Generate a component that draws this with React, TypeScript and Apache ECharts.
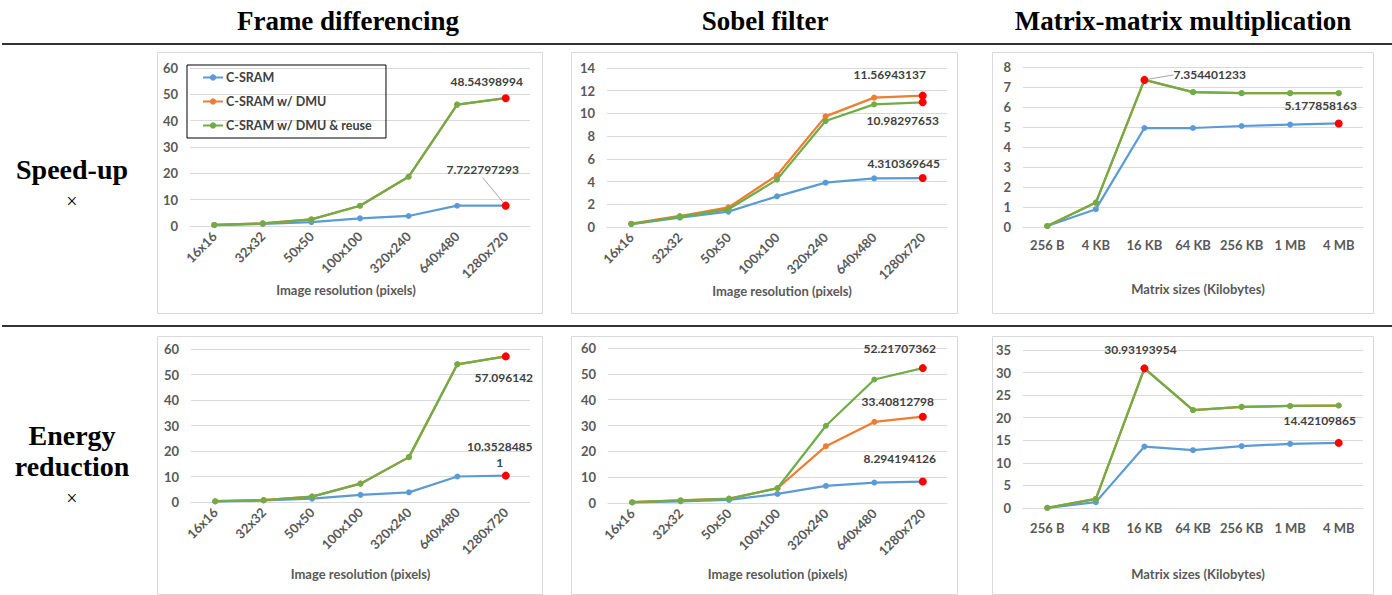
import React, { useEffect, useRef } from 'react';
import * as echarts from 'echarts';

const IMAGE_SIZES = ['16x16', '32x32', '50x50', '100x100', '320x240', '640x480', '1280x720'];
const MATRIX_SIZES = ['256 B', '4 KB', '16 KB', '64 KB', '256 KB', '1 MB', '4 MB'];
const SERIES_NAMES = ['C-SRAM', 'C-SRAM w/ DMU', 'C-SRAM w/ DMU & reuse'];
const COLORS = ['#5B9BD5', '#ED7D31', '#70AD47'];
const COLUMN_TITLES = ['Frame differencing', 'Sobel filter', 'Matrix-matrix multiplication'];

// Speed-up
const FD_SPEED_CSRAM = [0.3, 0.8, 1.5, 2.9, 3.8, 7.7, 7.722797293];
const FD_SPEED_DMU = [0.4, 1.0, 2.5, 7.7, 18.7, 46.1, 48.54398994];
const FD_SPEED_REUSE = [0.4, 1.0, 2.5, 7.7, 18.7, 46.1, 48.54398994];
const SB_SPEED_CSRAM = [0.26, 0.82, 1.35, 2.7, 3.9, 4.28, 4.310369645];
const SB_SPEED_DMU = [0.29, 0.97, 1.73, 4.55, 9.74, 11.39, 11.56943137];
const SB_SPEED_REUSE = [0.26, 0.91, 1.56, 4.17, 9.33, 10.8, 10.98297653];
const MM_SPEED_CSRAM = [0.05, 0.89, 4.95, 4.95, 5.05, 5.12, 5.177858163];
const MM_SPEED_DMU = [0.05, 1.22, 7.354401233, 6.74, 6.69, 6.69, 6.69];
const MM_SPEED_REUSE = [0.05, 1.22, 7.354401233, 6.74, 6.69, 6.69, 6.69];

// Energy reduction
const FD_ENERGY_CSRAM = [0.2, 0.6, 1.3, 2.8, 3.8, 10.0, 10.35284851];
const FD_ENERGY_DMU = [0.3, 0.7, 2.1, 7.2, 17.6, 54.0, 57.096142];
const FD_ENERGY_REUSE = [0.3, 0.7, 2.1, 7.2, 17.6, 54.0, 57.096142];
const SB_ENERGY_CSRAM = [0.2, 0.65, 1.2, 3.5, 6.6, 7.9, 8.294194126];
const SB_ENERGY_DMU = [0.3, 1.0, 1.7, 5.7, 22.0, 31.4, 33.40812798];
const SB_ENERGY_REUSE = [0.3, 1.0, 1.6, 5.8, 29.9, 47.8, 52.21707362];
const MM_ENERGY_CSRAM = [0.02, 1.3, 13.6, 12.8, 13.7, 14.2, 14.42109865];
const MM_ENERGY_DMU = [0.05, 2.0, 30.93193954, 21.7, 22.4, 22.6, 22.7];
const MM_ENERGY_REUSE = [0.05, 2.0, 30.93193954, 21.7, 22.4, 22.6, 22.7];

type HL = { s: number; i: number; pos: string; offset?: number[]; lead?: number[]; wrap?: boolean };

const PANELS: any[] = [
  {
    cats: IMAGE_SIZES, data: [FD_SPEED_CSRAM, FD_SPEED_DMU, FD_SPEED_REUSE], max: 60, interval: 10,
    axisName: 'Image resolution (pixels)', rotate: 45, labelMargin: 8, nameGap: 56, namePad: [0, 28, 0, 0],
    grid: { left: 190, top: 68, width: 340, height: 158 }, box: [157, 52, 385, 261],
    hl: [
      { s: 2, i: 6, pos: 'top', offset: [-19, 0] },
      { s: 0, i: 6, pos: 'top', lead: [-23, -19] },
    ] as HL[],
  },
  {
    cats: IMAGE_SIZES, data: [SB_SPEED_CSRAM, SB_SPEED_DMU, SB_SPEED_REUSE], max: 14, interval: 2,
    axisName: 'Image resolution (pixels)', rotate: 45, labelMargin: 8, nameGap: 56, namePad: [0, 0, 0, 10],
    grid: { left: 607, top: 68, width: 340, height: 159 }, box: [571, 52, 386, 261],
    hl: [
      { s: 1, i: 6, pos: 'top', offset: [-33, -4] },
      { s: 2, i: 6, pos: 'bottom', offset: [-20, 1] },
      { s: 0, i: 6, pos: 'top', offset: [-19, 2] },
    ] as HL[],
  },
  {
    cats: MATRIX_SIZES, data: [MM_SPEED_CSRAM, MM_SPEED_DMU, MM_SPEED_REUSE], max: 8, interval: 1,
    axisName: 'Matrix sizes (Kilobytes)', rotate: 0, labelMargin: 11, nameGap: 55, namePad: [0, 0, 0, 10],
    grid: { left: 1023, top: 67, width: 340, height: 160 }, box: [992, 52, 381, 261],
    hl: [
      { s: 2, i: 2, pos: 'right', lead: [20, -5] },
      { s: 0, i: 6, pos: 'top', offset: [-18, -1] },
    ] as HL[],
  },
  {
    cats: IMAGE_SIZES, data: [FD_ENERGY_CSRAM, FD_ENERGY_DMU, FD_ENERGY_REUSE], max: 60, interval: 10,
    axisName: 'Image resolution (pixels)', rotate: 45, labelMargin: 8, nameGap: 65, namePad: [0, 0, 0, 0],
    grid: { left: 191, top: 349, width: 339, height: 153 }, box: [157, 336, 385, 258],
    hl: [
      { s: 2, i: 6, pos: 'bottom', offset: [-2, 4] },
      { s: 0, i: 6, pos: 'top', offset: [-6, 4], wrap: true },
    ] as HL[],
  },
  {
    cats: IMAGE_SIZES, data: [SB_ENERGY_CSRAM, SB_ENERGY_DMU, SB_ENERGY_REUSE], max: 60, interval: 10,
    axisName: 'Image resolution (pixels)', rotate: 45, labelMargin: 8, nameGap: 64, namePad: [0, 0, 0, 0],
    grid: { left: 608, top: 348, width: 339, height: 155 }, box: [571, 336, 386, 258],
    hl: [
      { s: 2, i: 6, pos: 'top', offset: [-23, -3] },
      { s: 1, i: 6, pos: 'top', offset: [-25, 2] },
      { s: 0, i: 6, pos: 'top', offset: [-23, -6] },
    ] as HL[],
  },
  {
    cats: MATRIX_SIZES, data: [MM_ENERGY_CSRAM, MM_ENERGY_DMU, MM_ENERGY_REUSE], max: 35, interval: 5,
    axisName: 'Matrix sizes (Kilobytes)', rotate: 0, labelMargin: 13, nameGap: 59, namePad: [0, 0, 0, 10],
    grid: { left: 1023, top: 350, width: 340, height: 158 }, box: [992, 336, 381, 258],
    hl: [
      { s: 2, i: 2, pos: 'top', offset: [-4, -2] },
      { s: 0, i: 6, pos: 'top', offset: [-19, -5] },
    ] as HL[],
  },
];

const AXIS_TEXT = { color: '#595959', fontSize: 13, fontWeight: 'bold' as const, fontFamily: 'Lato' };
const LABEL_TEXT = { color: '#404040', fontSize: 12, fontWeight: 'bold' as const, fontFamily: 'Lato' };

function buildOption() {
  const grid: any[] = [];
  const xAxis: any[] = [];
  const yAxis: any[] = [];
  const series: any[] = [];
  const graphic: any[] = [];

  PANELS.forEach((p, pi) => {
    grid.push({ ...p.grid, containLabel: false });
    xAxis.push({
      gridIndex: pi, type: 'category', data: p.cats, boundaryGap: true,
      axisLine: { lineStyle: { color: '#D9D9D9', width: 1 } },
      axisTick: { show: false },
      axisLabel: { ...AXIS_TEXT, rotate: p.rotate, margin: p.labelMargin, interval: 0 },
      name: p.axisName, nameLocation: 'middle', nameGap: p.nameGap,
      nameTextStyle: { ...AXIS_TEXT, padding: p.namePad },
    });
    yAxis.push({
      gridIndex: pi, type: 'value', min: 0, max: p.max, interval: p.interval,
      axisLine: { show: false }, axisTick: { show: false },
      splitLine: { lineStyle: { color: '#D9D9D9', width: 1 } },
      axisLabel: { ...AXIS_TEXT, margin: 12 },
    });
    p.data.forEach((vals: number[], si: number) => {
      const hls: HL[] = p.hl.filter((h: HL) => h.s === si);
      const leadHl = hls.find((h) => h.lead);
      const data = vals.map((v, di) => {
        const h = hls.find((x) => x.i === di);
        if (!h) return v;
        return {
          value: v,
          symbolSize: 8,
          itemStyle: { color: '#FF0000' },
          label: {
            show: true,
            position: h.pos,
            offset: h.offset || [0, 0],
            ...LABEL_TEXT,
            lineHeight: 16,
            formatter: (pr: any) => {
              const s = String(pr.value);
              return h.wrap ? s.slice(0, -1) + '\n' + s.slice(-1) : s;
            },
          },
        };
      });
      const s: any = {
        type: 'line', name: SERIES_NAMES[si], xAxisIndex: pi, yAxisIndex: pi,
        data, symbol: 'circle', symbolSize: 6, showSymbol: true,
        lineStyle: { color: COLORS[si], width: 2.25 },
        itemStyle: { color: COLORS[si] },
        label: { show: false },
        z: 2 + si,
      };
      if (leadHl) {
        s.labelLine = { show: true, lineStyle: { color: '#A6A6A6', width: 1 } };
        s.labelLayout = (params: any) =>
          params.dataIndex === leadHl.i ? { dx: leadHl.lead![0], dy: leadHl.lead![1] } : {};
      }
      series.push(s);
    });
    graphic.push({
      type: 'rect', silent: true, z: -10,
      shape: { x: p.box[0] + 0.5, y: p.box[1] + 0.5, width: p.box[2], height: p.box[3] },
      style: { fill: 'none', stroke: '#D9D9D9', lineWidth: 1 },
    });
  });

  const titleX = [348, 765, 1183];
  COLUMN_TITLES.forEach((t, i) => {
    graphic.push({
      type: 'text', x: titleX[i], y: 21, silent: true,
      style: { text: t, fill: '#000', font: 'bold 27px "Liberation Serif"', textAlign: 'center', textVerticalAlign: 'middle' },
    });
  });
  graphic.push({ type: 'line', silent: true, shape: { x1: 2, y1: 44, x2: 1392, y2: 44 }, style: { stroke: '#333', lineWidth: 2 } });
  graphic.push({ type: 'line', silent: true, shape: { x1: 2, y1: 326, x2: 1392, y2: 326 }, style: { stroke: '#333', lineWidth: 2 } });

  const rowLabels = [
    { t: 'Speed-up', y: 169, bold: true },
    { t: '×', y: 201, bold: false },
    { t: 'Energy', y: 435, bold: true },
    { t: 'reduction', y: 466, bold: true },
    { t: '×', y: 498, bold: false },
  ];
  rowLabels.forEach((r) => {
    graphic.push({
      type: 'text', x: 72, y: r.y, silent: true,
      style: {
        text: r.t, fill: '#000',
        font: (r.bold ? 'bold 28px' : '20px') + ' "Liberation Serif"',
        textAlign: 'center', textVerticalAlign: 'middle',
      },
    });
  });

  return {
    animation: false,
    backgroundColor: '#ffffff',
    textStyle: { fontFamily: 'Lato' },
    legend: {
      data: SERIES_NAMES,
      left: 187, top: 65, orient: 'vertical',
      borderColor: '#000000', borderWidth: 1,
      padding: [6, 14, 6, 15], itemGap: 11, itemWidth: 20, itemHeight: 8,
      textStyle: { ...LABEL_TEXT, fontSize: 12.5, padding: [0, 0, 0, -2] },
      selectedMode: false,
    },
    grid, xAxis, yAxis, series, graphic,
  };
}

export default function App() {
  const ref = useRef<HTMLDivElement>(null);
  useEffect(() => {
    if (!ref.current) return;
    const chart = echarts.init(ref.current, undefined, { renderer: 'svg' });
    chart.setOption(buildOption() as any);
    return () => chart.dispose();
  }, []);
  return (
    <div
      ref={ref}
      style={{ position: 'fixed', left: 0, top: 0, width: 1392, height: 595, background: '#fff' }}
    />
  );
}
